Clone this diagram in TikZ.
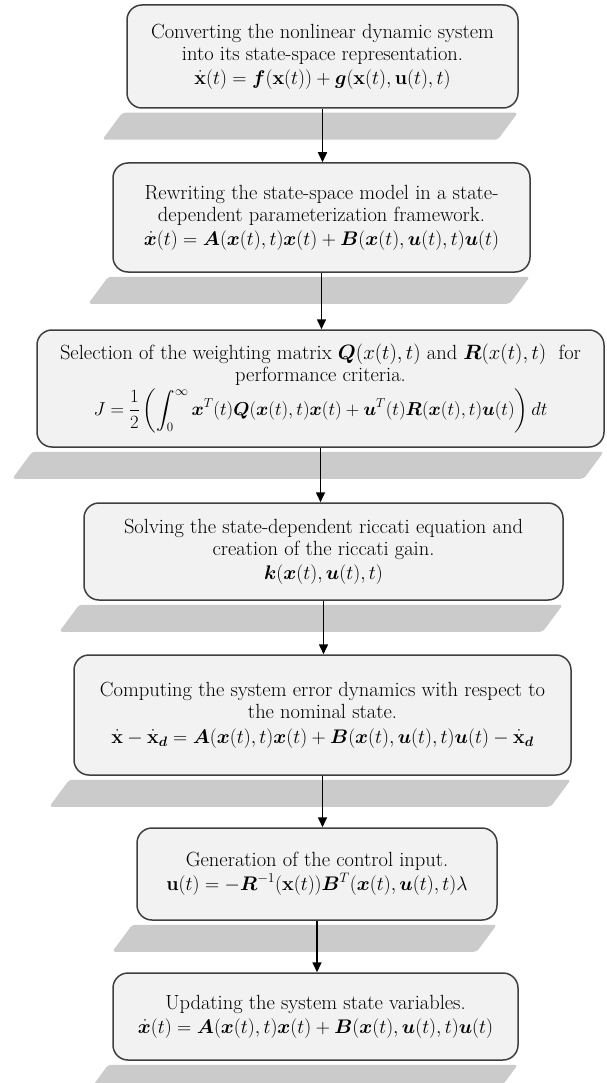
\documentclass[tikz,border=0pt]{standalone}
\usepackage{amsmath}
\usepackage{amssymb}
\usepackage{bm}
\usepackage{graphicx}
\usepackage{tikz}
\usetikzlibrary{calc,arrows.meta}
\usepackage{xcolor}

\definecolor{boxfill}{HTML}{F2F2F2}
\definecolor{boxline}{HTML}{3F3F3F}
\definecolor{shadowgray}{HTML}{CBCBCB}

% Fórmula um pouco menor que o texto
\newcommand{\eqn}[2][0.95]{\scalebox{#1}{$\displaystyle #2$}}

\tikzset{
  stepbox/.style={draw=boxline, line width=1.5pt, fill=boxfill, rounded corners=15pt,
    align=center, inner sep=3pt, font=\fontsize{20.5}{22}\selectfont},
  flow/.style={-{Triangle[length=10pt,width=9pt]}, line width=1.6pt, black},
}

\begin{document}
\begin{tikzpicture}[x=1pt,y=-1pt]
\useasboundingbox (0,0) rectangle (606,1083);

% Etapas
\node[stepbox, minimum width=391, minimum height=103] (conv) at (322.5,56.5)
  {Converting the nonlinear dynamic system\\ into its state-space representation.\\[2pt]
   \eqn{\dot{\mathbf{x}}(t)=\bm{f}(\mathbf{x}(t))+\bm{g}(\mathbf{x}(t),\mathbf{u}(t),t)}};
\node[stepbox, minimum width=417, minimum height=109] (rewrite) at (321.5,217.5)
  {Rewriting the state-space model in a state-\\ dependent parameterization framework.\\[2pt]
   \eqn{\dot{\bm{x}}(t)=\bm{A}(\bm{x}(t),t)\bm{x}(t)+\bm{B}(\bm{x}(t),\bm{u}(t),t)\bm{u}(t)}};
\node[stepbox, minimum width=567, minimum height=117] (select) at (320.5,388.5)
  {Selection of the weighting matrix $\bm{Q}(x(t),t)$ and $\bm{R}(x(t),t)$\ \ for\\
   performance criteria.\\[2pt]
   \eqn[0.9]{J=\frac{1}{2}\left(\int_0^\infty \bm{x}^T(t)\bm{Q}(\bm{x}(t),t)\bm{x}(t)
    +\bm{u}^T(t)\bm{R}(\bm{x}(t),t)\bm{u}(t)\right)dt}};
\node[stepbox, minimum width=479, minimum height=97] (solve) at (323.5,551.5)
  {Solving the state-dependent riccati equation and\\ creation of the riccati gain.\\[2pt]
   \eqn{\bm{k}(\bm{x}(t),\bm{u}(t),t)}};
\node[stepbox, minimum width=497, minimum height=120] (errdyn) at (322.5,715)
  {Computing the system error dynamics with respect to\\ the nominal state.\\[3pt]
   \eqn{\dot{\mathbf{x}}-\dot{\mathbf{x}}_{\bm{d}}=\bm{A}(\bm{x}(t),t)\bm{x}(t)+\bm{B}(\bm{x}(t),\bm{u}(t),t)\bm{u}(t)-\dot{\mathbf{x}}_{\bm{d}}}};
\node[stepbox, minimum width=360, minimum height=92] (ctrl) at (317,874)
  {Generation of the control input.\\[2pt]
   \eqn{\mathbf{u}(t)=-\bm{R}^{-1}(\mathbf{x}(t))\bm{B}^T(\bm{x}(t),\bm{u}(t),t)\lambda}};
\node[stepbox, minimum width=405, minimum height=87] (update) at (315.5,1016.5)
  {Updating the system state variables.\\[2pt]
   \eqn{\dot{\bm{x}}(t)=\bm{A}(\bm{x}(t),t)\bm{x}(t)+\bm{B}(\bm{x}(t),\bm{u}(t),t)\bm{u}(t)}};

% Sombras
\foreach \b in {conv,rewrite,select,solve,errdyn,ctrl,update} {
    \fill[shadowgray, rounded corners=3pt] ($(\b.south west)+(-4,4)$) -- ($(\b.south east)+(-1,4)$)
        -- ($(\b.south east)+(-21,31)$) -- ($(\b.south west)+(-24,31)$) -- cycle;
}

% Setas
\foreach \a/\b in {conv/rewrite, rewrite/select, select/solve, solve/errdyn, errdyn/ctrl, ctrl/update} {
    \draw[flow] (\a.south) -- (\a.south |- \b.north);
}
\end{tikzpicture}
\end{document}
